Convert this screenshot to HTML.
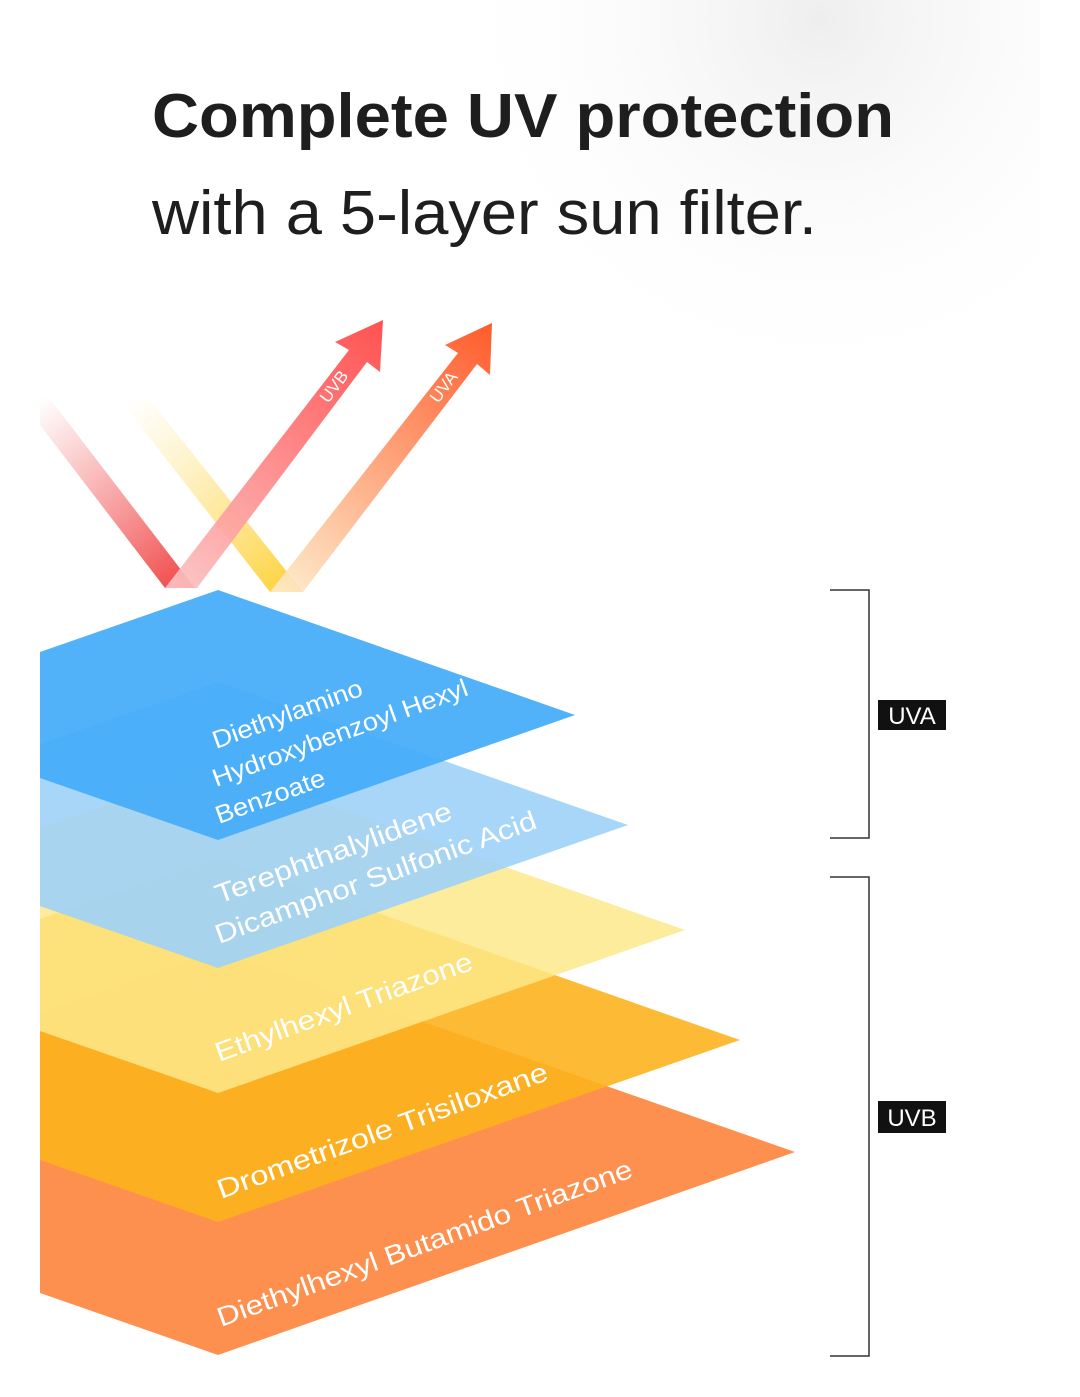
<!DOCTYPE html>
<html><head><meta charset="utf-8"><style>
html,body{margin:0;padding:0;background:#fff;}
svg{display:block;}
</style></head><body>
<svg width="1080" height="1397" viewBox="0 0 1080 1397" xmlns="http://www.w3.org/2000/svg">
<defs>
<radialGradient id="bg" cx="820" cy="20" r="380" gradientUnits="userSpaceOnUse">
<stop offset="0" stop-color="#eeeeee"/><stop offset="1" stop-color="#ffffff" stop-opacity="0"/></radialGradient>
<linearGradient id="inB" x1="40" y1="400" x2="190" y2="588" gradientUnits="userSpaceOnUse">
<stop offset="0" stop-color="#f25a5a" stop-opacity="0"/><stop offset="1" stop-color="#f04545"/></linearGradient>
<linearGradient id="outB" x1="180" y1="588" x2="380" y2="325" gradientUnits="userSpaceOnUse">
<stop offset="0" stop-color="#fcc0c0"/><stop offset="1" stop-color="#ff4444"/></linearGradient>
<linearGradient id="inA" x1="130" y1="400" x2="290" y2="592" gradientUnits="userSpaceOnUse">
<stop offset="0" stop-color="#fde07a" stop-opacity="0"/><stop offset="1" stop-color="#fdd23a"/></linearGradient>
<linearGradient id="outA" x1="285" y1="592" x2="490" y2="325" gradientUnits="userSpaceOnUse">
<stop offset="0" stop-color="#fde9c6"/><stop offset="1" stop-color="#ff4e1a"/></linearGradient>
</defs>
<rect width="1080" height="1397" fill="#fff"/>
<rect x="40" y="0" width="1000" height="420" fill="url(#bg)"/>

<text x="152" y="137" font-family="Liberation Sans, sans-serif" font-weight="bold" font-size="62" fill="#1e1e1e" textLength="742" lengthAdjust="spacingAndGlyphs">Complete UV protection</text>
<text x="152" y="234" font-family="Liberation Sans, sans-serif" font-size="62" fill="#1e1e1e" textLength="665" lengthAdjust="spacingAndGlyphs">with a 5-layer sun filter.</text>

<polygon points="40,386 40,425 165,588 195,588" fill="url(#inB)"/>
<polygon points="120,400 150,400 303,592 270,592" fill="url(#inA)"/>
<polygon points="165,588 197,588 367,362 380,372 383,320 335,342 349,350" fill="url(#outB)" opacity="0.92"/>
<polygon points="270,592 303,592 477,364 490,375 492,323 445,345 458,353" fill="url(#outA)" opacity="0.92"/>
<text transform="translate(328,404) rotate(-53)" font-family="Liberation Sans, sans-serif" font-size="17" fill="#fff">UVB</text>
<text transform="translate(438,404) rotate(-53)" font-family="Liberation Sans, sans-serif" font-size="17" fill="#fff">UVA</text>

<polygon points="218,950 795,1152 218,1355 40,1293 40,1012" fill="#fd8a44" opacity="0.95"/>
<polygon points="218,857 740,1040 218,1222 40,1160 40,919" fill="#fdb21e" opacity="0.9"/>
<polygon points="218,766 685,930 218,1093 40,1031 40,828" fill="#fde98a" opacity="0.85"/>
<polygon points="218,682 628,825 218,968 40,906 40,744" fill="#9fd2f8" opacity="0.9"/>
<polygon points="218,590 575,715 218,840 40,778 40,652" fill="#45acf9" opacity="0.93"/>

<g font-family="Liberation Sans, sans-serif" font-size="25" fill="#fff" lengthAdjust="spacingAndGlyphs">
<text transform="translate(216,749) rotate(-20)" textLength="158" lengthAdjust="spacingAndGlyphs">Diethylamino</text>
<text transform="translate(216,787) rotate(-20)" textLength="270" lengthAdjust="spacingAndGlyphs">Hydroxybenzoyl Hexyl</text>
<text transform="translate(219,824) rotate(-20)" textLength="115" lengthAdjust="spacingAndGlyphs">Benzoate</text>
<text transform="translate(219,904) rotate(-20)" font-size="27" textLength="250" lengthAdjust="spacingAndGlyphs">Terephthalylidene</text>
<text transform="translate(219,944) rotate(-20)" font-size="27" textLength="340" lengthAdjust="spacingAndGlyphs">Dicamphor Sulfonic Acid</text>
<text transform="translate(219,1062) rotate(-20)" font-size="27" textLength="272" lengthAdjust="spacingAndGlyphs">Ethylhexyl Triazone</text>
<text transform="translate(221,1199) rotate(-20)" font-size="27" textLength="350" lengthAdjust="spacingAndGlyphs">Drometrizole Trisiloxane</text>
<text transform="translate(221,1327) rotate(-20)" font-size="27" textLength="440" lengthAdjust="spacingAndGlyphs">Diethylhexyl Butamido Triazone</text>
</g>

<polyline points="830,590 869,590 869,838 830,838" fill="none" stroke="#333" stroke-width="1.5"/>
<polyline points="830,877 869,877 869,1356 830,1356" fill="none" stroke="#333" stroke-width="1.5"/>
<rect x="878" y="700" width="68" height="30" fill="#111"/>
<text x="912" y="724" text-anchor="middle" font-family="Liberation Sans, sans-serif" font-size="24" fill="#fff">UVA</text>
<rect x="878" y="1101" width="68" height="32" fill="#111"/>
<text x="912" y="1126" text-anchor="middle" font-family="Liberation Sans, sans-serif" font-size="24" fill="#fff">UVB</text>
</svg>
</body></html>
